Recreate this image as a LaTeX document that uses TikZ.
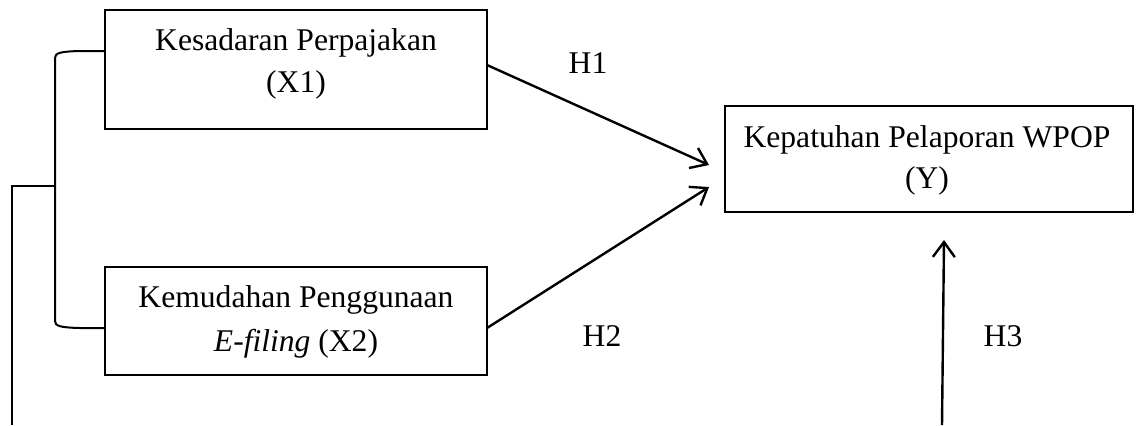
\documentclass[tikz,border=0pt]{standalone}
\usepackage{fontspec}
\setmainfont{Liberation Serif}
\usetikzlibrary{arrows.meta}
\begin{document}
\begin{tikzpicture}[x=0.5pt,y=-0.5pt,
  font=\fontsize{15.8pt}{21pt}\selectfont,
  box/.style={draw, line width=0.75pt, inner sep=0pt, outer sep=0pt},
  txt/.style={anchor=base, inner sep=0pt},
  arr/.style={line width=1.2pt, -{Straight Barb[length=7.5pt,width=11pt,line width=1.2pt]}},
  brace/.style={line width=1pt}]
\useasboundingbox (0,0) rectangle (1139,425);

% boxes
\node[box, minimum width=191pt, minimum height=59.5pt] (x1) at (296,69.5) {};
\node[box, minimum width=191pt, minimum height=54pt] (x2) at (296,321) {};
\node[box, minimum width=204pt, minimum height=53pt] (y) at (929,159) {};

% box texts
\node[txt] (x1a) at (296,50) {Kesadaran Perpajakan};
\node[txt] (x1b) at (296,92) {(X1)};
\node[txt] (x2a) at (296,307) {Kemudahan Penggunaan};
\node[txt] (x2b) at (296,351) {\textit{E-filing} (X2)};
\node[txt] (ya) at (927,147) {Kepatuhan Pelaporan WPOP};
\node[txt] (yb) at (927,188) {(Y)};

% hypothesis labels
\node[txt] (h1) at (588,73) {H1};
\node[txt] (h2) at (602,346) {H2};
\node[txt] (h3) at (1003,346) {H3};

% arrow ends
\coordinate (h1tip) at (709,165);
\coordinate (h2tip) at (709,187);
\coordinate (h3tip) at (944,240);
\coordinate (h3foot) at (942,425);
\coordinate (brmid) at (55,186);
\coordinate (brfoot) at (12,425);

% arrows
\draw[arr] (x1.east |- 0,65) -- (h1tip);
\draw[arr] (x2.east |- 0,328) -- (h2tip);
\draw[arr] (h3foot) -- (h3tip);

% bracket joining the two independent variables
\draw[brace] (x1.west |- 0,51) -- (80,51) .. controls (60,51.5) and (55,53) .. (55,58)
  -- (55,321) .. controls (55,326) and (60,327.5) .. (80,328) -- (x2.west |- 0,328);
\draw[brace] (brmid) -- (12,186) -- (brfoot);
\end{tikzpicture}
\end{document}
